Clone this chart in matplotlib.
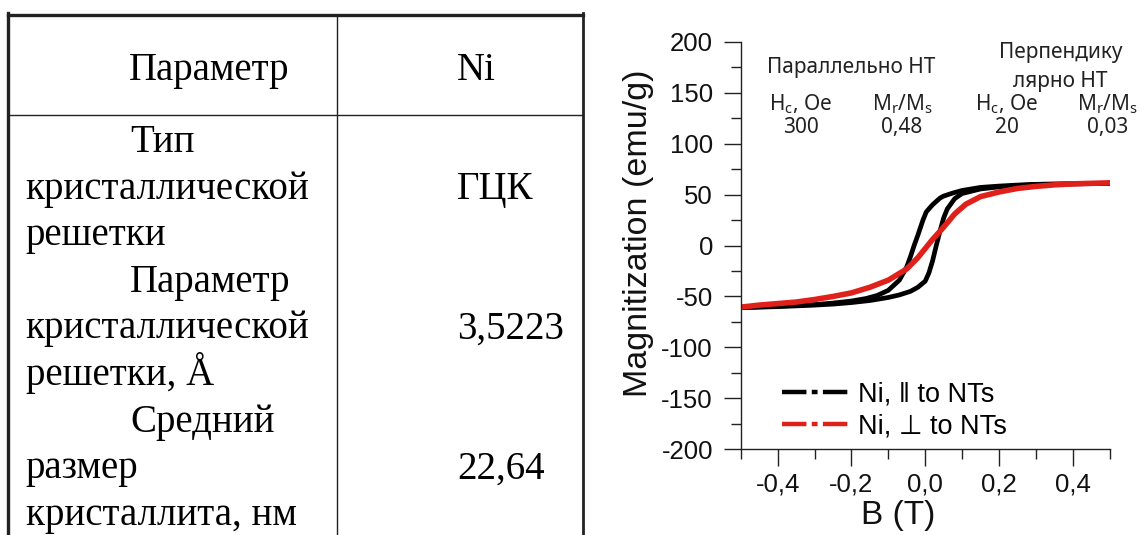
import matplotlib.pyplot as plt
from matplotlib.lines import Line2D
from matplotlib.ticker import FuncFormatter, MultipleLocator

W, H = 1148, 535

# table content
header = ["Параметр", "Ni"]
param_lines = [["Тип", "кристаллической", "решетки"],
               ["Параметр", "кристаллической", "решетки, Å"],
               ["Средний", "размер", "кристаллита, нм"]]
param_values = ["ГЦК", "3,5223", "22,64"]

# hysteresis loops, B (T) vs magnetization (emu/g)
b_par_down = [0.50, 0.40, 0.30, 0.25, 0.20, 0.15, 0.10, 0.075, 0.05, 0.04, 0.02, 0.003,
              -0.006, -0.02, -0.03, -0.04, -0.05, -0.07, -0.10, -0.13, -0.16, -0.20,
              -0.25, -0.30, -0.40, -0.50]
m_par_down = [61, 60.5, 60, 59.3, 58.3, 57, 54, 51.5, 48.5, 46.5, 40, 33,
              25, 10, 0, -11, -21, -34, -44, -49, -52, -54.5,
              -56.5, -58, -59.5, -61]
b_par_up = [-0.50, -0.40, -0.30, -0.25, -0.20, -0.15, -0.10, -0.07, -0.04, -0.02, 0.00,
            0.01, 0.02, 0.03, 0.04, 0.05, 0.06, 0.08, 0.10, 0.15, 0.20, 0.30, 0.40, 0.50]
m_par_up = [-61, -60, -58.5, -57.5, -56, -54, -51, -48.5, -45, -41, -35,
            -27, -15, 0, 14, 27, 36, 46, 51, 55.5, 57.5, 60, 60.5, 61]
b_perp = [-0.50, -0.45, -0.40, -0.35, -0.30, -0.25, -0.20, -0.15, -0.10, -0.05, -0.02,
          0.00, 0.02, 0.05, 0.08, 0.11, 0.15, 0.20, 0.25, 0.30, 0.35, 0.40, 0.45, 0.50]
m_perp = [-60.5, -58.5, -57, -55.5, -53, -50, -46.5, -41, -34, -23, -12,
          -3, 6, 18, 31, 40.5, 48, 52.5, 56, 58, 59.5, 60.5, 61, 61.5]

legend_labels = ["Ni, \u2016 to NTs", "Ni, \u22a5 to NTs"]

# numbers printed over the plot
note_cols = ["H$\\mathregular{_c}$, Oe", "M$\\mathregular{_r}$/M$\\mathregular{_s}$",
             "H$\\mathregular{_c}$, Oe", "M$\\mathregular{_r}$/M$\\mathregular{_s}$"]
note_vals = ["300", "0,48", "20", "0,03"]

fig = plt.figure(figsize=(W / 100, H / 100), dpi=100)

# ---- table, drawn in pixel coordinates ----
tab = fig.add_axes([0, 0, 1, 1])
tab.set_xlim(0, W)
tab.set_ylim(H, 0)
tab.axis('off')

serif = dict(family='Liberation Serif', size=28, color='black')
tab.plot([8, 583], [14.5, 14.5], color='#222222', lw=2.4)
tab.plot([8.3, 8.3], [13, H + 5], color='#222222', lw=2.4)
tab.plot([582.6, 582.6], [13, H + 5], color='#222222', lw=2.0)
tab.plot([337, 337], [14.5, H + 5], color='#222222', lw=1.0)
tab.plot([8, 583], [115, 115], color='#222222', lw=1.0)

tab.text(129, 80, header[0], ha='left', va='baseline', **serif)
tab.text(476.7, 80, header[1], ha='center', va='baseline', **serif)

pitch = 46.6
line_no = 0
for lines, val in zip(param_lines, param_values):
    for j, s in enumerate(lines):
        y = 152 + pitch * (line_no + j)
        tab.text(130 if j == 0 else 25.6, y, s, ha='left', va='baseline', **serif)
    tab.text(457, 152 + pitch * (line_no + 1), val, ha='left', va='baseline', **serif)
    line_no += len(lines)

# ---- notes above the curves ----
note = dict(family='Noto Sans', size=15, color='#222222', ha='center', va='baseline')
tab.text(851, 72.7, "Параллельно НТ", **note)
tab.text(1061, 58, "Перпендику", **note)
tab.text(1060, 86.7, "лярно НТ", **note)
for x, c, v in zip([801, 902, 1007, 1107.5], note_cols, note_vals):
    tab.text(x, 110, c, **note)
    tab.text(x, 133, v, **note)

# ---- magnetization plot ----
ax = fig.add_axes([740.7 / W, 1 - 449.3 / H, 369 / W, 407.6 / H])
ax.set_facecolor('none')
ax.plot(b_par_down, m_par_down, color='black', lw=3.4, solid_joinstyle='round')
ax.plot(b_par_up, m_par_up, color='black', lw=3.4, solid_joinstyle='round')
ax.plot(b_perp, m_perp, color='#e0201b', lw=4.0, solid_joinstyle='round')

ax.set_xlim(-0.5, 0.5)
ax.set_ylim(-200, 200)
ax.spines['top'].set_visible(False)
ax.spines['right'].set_visible(False)
for sp in ['left', 'bottom']:
    ax.spines[sp].set_linewidth(1.0)
    ax.spines[sp].set_color('#222222')

ax.xaxis.set_major_locator(MultipleLocator(0.2))
ax.xaxis.set_minor_locator(MultipleLocator(0.1))
ax.yaxis.set_major_locator(MultipleLocator(50))
ax.yaxis.set_minor_locator(MultipleLocator(25))


def fmt_x(v, pos):
    if abs(v) < 1e-9:
        v = 0.0
    return f'{v:.1f}'.replace('.', ',')


def fmt_y(v, pos):
    return f'{v:.0f}'


ax.xaxis.set_major_formatter(FuncFormatter(fmt_x))
ax.yaxis.set_major_formatter(FuncFormatter(fmt_y))

sans = ['Liberation Sans', 'DejaVu Sans']
ax.tick_params(which='major', direction='out', length=12, width=1.0, color='#222222')
ax.tick_params(which='minor', direction='out', length=7, width=1.0, color='#222222')
ax.tick_params(axis='y', which='major', pad=8)
ax.tick_params(axis='x', which='major', pad=5)
for lab in ax.get_xticklabels() + ax.get_yticklabels():
    lab.set_family(sans)
    lab.set_fontsize(18.5)
    lab.set_color('#111111')

ax.set_xlabel('B (T)', family=sans, fontsize=24, color='#111111')
ax.xaxis.set_label_coords(0.426, -0.124)
ax.set_ylabel('Magnitization (emu/g)', family=sans, fontsize=24.5, color='#111111')
ax.yaxis.set_label_coords(-0.235, 0.531)

handles = [Line2D([0], [0], color='black', lw=3.2, ls=(0, (5.5, 1.2, 1.3, 1.2))),
           Line2D([0], [0], color='#e0201b', lw=3.2, ls=(0, (5.5, 1.2, 1.3, 1.2)))]
ax.legend(handles, legend_labels, loc='center left', bbox_to_anchor=(0.112, 0.095),
          frameon=False, borderpad=0, borderaxespad=0, handlelength=2.5,
          handletextpad=0.3, labelspacing=0.2,
          prop=dict(family=sans, size=19.5))

fig.savefig('out.png', dpi=100)
